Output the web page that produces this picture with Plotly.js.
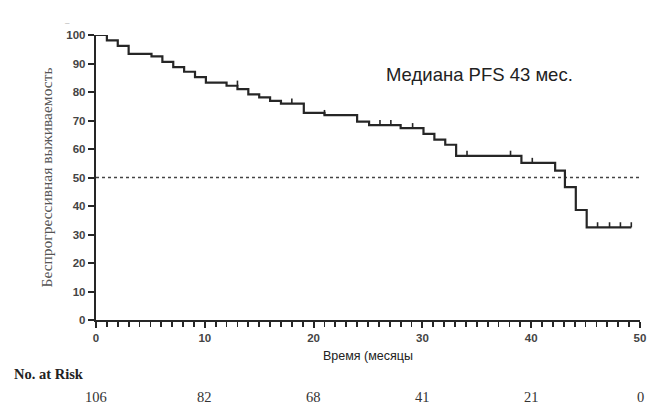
<!DOCTYPE html>
<html>
<head>
<meta charset="utf-8">
<script src="https://cdn.plot.ly/plotly-3.0.1.min.js"></script>
<style>html,body{margin:0;padding:0;background:#fff;}#chart{width:654px;height:407px;}</style>
</head>
<body>
<div id="chart"></div>
<script>
// Kaplan–Meier step points (months, % progression-free)
const stepTimes = [0, 1.0, 2.0, 3.0, 5.1, 6.1, 7.1, 8.1, 9.1, 10.1, 12.0, 13.0, 14.0, 15.0, 16.0, 17.0, 19.1, 21.0, 24.0, 25.1, 28.0, 30.1, 31.1, 32.1, 33.1, 39.1, 42.2, 43.1, 44.1, 45.1, 49.2];
const stepSurv  = [100, 98.1, 96.2, 93.4, 92.5, 90.6, 88.7, 87.1, 85.2, 83.3, 82.2, 81.0, 79.2, 78.1, 76.9, 75.9, 72.7, 71.9, 69.6, 68.4, 67.3, 65.3, 63.3, 61.5, 57.6, 55.1, 52.4, 46.6, 38.6, 32.5, 32.5];
// censored observations
const censorTimes = [13.0, 18.0, 21.0, 26.1, 27.1, 29.1, 34.1, 38.1, 40.1, 46.1, 47.2, 48.2, 49.2];
const censorSurv  = [82.2, 75.9, 71.9, 68.4, 68.4, 67.3, 57.6, 57.6, 55.1, 32.5, 32.5, 32.5, 32.5];
// median reference line
const medianLevel = 50;
const medianRange = [0, 50];
// number at risk table
const riskTimes  = [0, 10, 20, 30, 40, 50];
const riskCounts = [106, 82, 68, 41, 21, 0];
const xTickVals = [0, 10, 20, 30, 40, 50];
const yTickVals = [0, 10, 20, 30, 40, 50, 60, 70, 80, 90, 100];

const dark = '#262626';

const traces = [
  {
    x: medianRange, y: [medianLevel, medianLevel],
    mode: 'lines', line: {color: '#444', width: 1.3, dash: 'dot'},
    hoverinfo: 'skip', showlegend: false, cliponaxis: false
  },
  {
    x: stepTimes, y: stepSurv,
    mode: 'lines', line: {color: dark, width: 2.2, shape: 'hv'},
    showlegend: false, cliponaxis: false
  },
  {
    x: censorTimes, y: censorSurv,
    mode: 'markers', marker: {size: 0.1, color: dark},
    error_y: {type: 'constant', symmetric: false, value: 1.8, valueminus: 0, width: 0, thickness: 1.6, color: dark},
    showlegend: false, cliponaxis: false
  }
];

const annotations = [
  {
    x: 0.705, y: 0.86, xref: 'paper', yref: 'paper', xanchor: 'center', yanchor: 'middle',
    text: 'Медиана PFS 43 мес.', showarrow: false,
    font: {family: 'Liberation Sans, Arial, sans-serif', size: 18.5, color: '#222'}
  },
  {
    x: -0.155, y: -0.19, xref: 'paper', yref: 'paper', xanchor: 'left', yanchor: 'middle',
    text: '<b>No. at Risk</b>', showarrow: false,
    font: {family: 'Liberation Serif, Times New Roman, serif', size: 14.5, color: '#222'}
  },
  {
    x: -0.052, y: 1.045, xref: 'paper', yref: 'paper', xanchor: 'center', yanchor: 'middle',
    text: '‒', showarrow: false,
    font: {family: 'Liberation Sans, Arial, sans-serif', size: 8, color: '#aaa'}
  }
];
riskTimes.forEach((t, i) => {
  annotations.push({
    x: t, y: -0.27, xref: 'x', yref: 'paper', xanchor: 'center', yanchor: 'middle',
    text: String(riskCounts[i]), showarrow: false,
    font: {family: 'Liberation Serif, Times New Roman, serif', size: 14.5, color: '#333'}
  });
});

const layout = {
  width: 654, height: 407,
  margin: {l: 96, r: 14, t: 35, b: 87},
  paper_bgcolor: '#fff', plot_bgcolor: '#fff',
  showlegend: false,
  xaxis: {
    range: [0, 50], tickvals: xTickVals, ticktext: xTickVals.map(String),
    ticks: 'outside', ticklen: 6, tickwidth: 2, tickcolor: dark,
    minor: {dtick: 1, ticks: 'outside', ticklen: 5, tickwidth: 1.8, tickcolor: dark},
    showline: true, linecolor: dark, linewidth: 2.2,
    showgrid: false, zeroline: false,
    tickfont: {family: 'Liberation Sans, Arial, sans-serif', size: 11.5, color: '#444', weight: 'bold'},
    title: {text: 'Время (месяцы', standoff: 8,
            font: {family: 'Liberation Sans, Arial, sans-serif', size: 12.5, color: '#222'}}
  },
  yaxis: {
    range: [0, 100], tickvals: yTickVals,
    ticks: 'outside', ticklen: 6, tickwidth: 2, tickcolor: dark,
    showline: true, linecolor: dark, linewidth: 2.2,
    showgrid: false, zeroline: false,
    tickfont: {family: 'Liberation Sans, Arial, sans-serif', size: 11.5, color: '#444', weight: 'bold'},
    title: {text: 'Беспрогрессивная выживаемость', standoff: 10,
            font: {family: 'Liberation Serif, Times New Roman, serif', size: 15.5, color: '#555'}}
  },
  annotations: annotations
};

Plotly.newPlot('chart', traces, layout, {displayModeBar: false, staticPlot: true});
</script>
</body>
</html>
